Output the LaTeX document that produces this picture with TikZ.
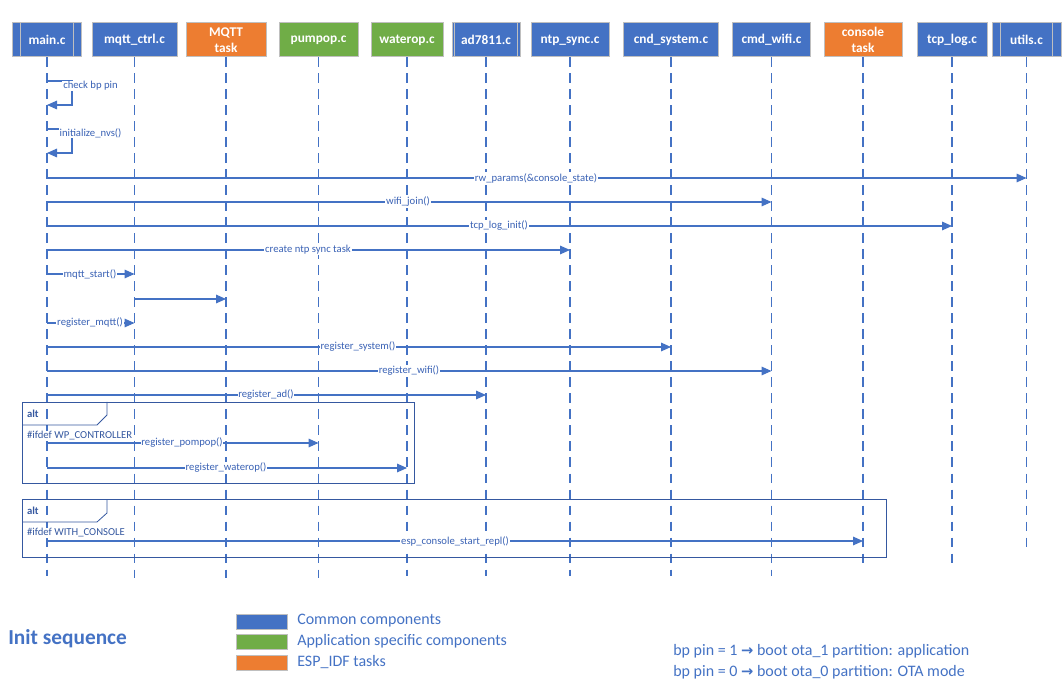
\documentclass[tikz,border=0pt]{standalone}
\usepackage{fontspec}
\setmainfont{Carlito}
\newfontfamily\arrowfont{DejaVu Sans}
\usetikzlibrary{arrows.meta}
\definecolor{cblue}{HTML}{4472C4}
\definecolor{cgreen}{HTML}{70AD47}
\definecolor{corange}{HTML}{ED7D31}
\definecolor{cgray}{HTML}{BFBFBF}
\definecolor{cframe}{HTML}{3558A0}
\definecolor{ctext}{HTML}{3A62B5}
\begin{document}
\begin{tikzpicture}[x=0.75pt,y=-0.75pt,
  hdr/.style={draw=cgray, line width=0.75pt, text=white,
    font=\fontsize{10}{12}\selectfont\bfseries, minimum height=25.5pt,
    inner sep=0pt, align=center},
  bar/.style={cgray, line width=0.75pt},
  life/.style={cblue, line width=0.9pt, dash pattern=on 7pt off 5pt},
  msg/.style={cblue, line width=0.8pt, -{Triangle[length=7.5pt,width=6.5pt]}},
  lbl/.style={fill=white, inner sep=0.6pt, text=ctext, font=\fontsize{8}{9.6}\selectfont},
  frm/.style={draw=cframe, line width=0.6pt},
  frmtxt/.style={anchor=west, inner sep=0.6pt, text=cframe, font=\fontsize{8}{9.6}\selectfont},
  swatch/.style={draw=cgray, line width=0.75pt, minimum width=38.25pt, minimum height=11.25pt, inner sep=0pt},
  legtxt/.style={anchor=west, inner sep=0pt, text=cblue, font=\fontsize{12}{14}\selectfont}
]
\useasboundingbox (0,0) rectangle (1063,680);

% header boxes
\node[hdr, fill=cblue,   minimum width=51.75pt] (main)    at (47,40)   {main.c};
\node[hdr, fill=cblue,   minimum width=63.75pt] (mqttc)   at (134.5,40) {mqtt\_ctrl.c};
\node[hdr, fill=corange, minimum width=60pt]    (mqttt)   at (226,40)  {MQTT\\task};
\node[hdr, fill=cgreen,  minimum width=59.25pt] (pump)    at (318.5,40) {pumpop.c};
\node[hdr, fill=cgreen,  minimum width=54pt]    (water)   at (407,40)  {waterop.c};
\node[hdr, fill=cblue,   minimum width=51pt]    (ad)      at (486,40)  {ad7811.c};
\node[hdr, fill=cblue,   minimum width=58.5pt]  (ntp)     at (570,40)  {ntp\_sync.c};
\node[hdr, fill=cblue,   minimum width=71.25pt] (cnd)     at (671,40)  {cnd\_system.c};
\node[hdr, fill=cblue,   minimum width=58.5pt]  (wifi)    at (771.5,40) {cmd\_wifi.c};
\node[hdr, fill=corange, minimum width=58.5pt]  (cons)    at (863,40)  {console\\task};
\node[hdr, fill=cblue,   minimum width=52.5pt]  (tcp)     at (952,40)  {tcp\_log.c};
\node[hdr, fill=cblue,   minimum width=51.75pt] (utils)   at (1026.5,40) {utils.c};

% inner bars
\draw[bar] ([xshift=6.4pt]main.north west) -- ([xshift=6.4pt]main.south west);
\draw[bar] ([xshift=-6.4pt]main.north east) -- ([xshift=-6.4pt]main.south east);
\draw[bar] ([xshift=2.4pt]ad.north west) -- ([xshift=2.4pt]ad.south west);
\draw[bar] ([xshift=-2.4pt]ad.north east) -- ([xshift=-2.4pt]ad.south east);
\draw[bar] ([xshift=6.4pt]utils.north west) -- ([xshift=6.4pt]utils.south west);
\draw[bar] ([xshift=-6.4pt]utils.north east) -- ([xshift=-6.4pt]utils.south east);

% lifelines
\foreach \n/\e in {main/576,mqttc/578,mqttt/578,pump/578,water/576,ad/576,ntp/576,cnd/576,wifi/576,cons/567,tcp/566,utils/550}{
  \draw[life] (\n.south) -- (\n.south |- 0,\e);
}

% self messages
\draw[msg] (main |- 0,81) -| (72,105) -- (main |- 0,105);
\node[lbl] (l1) at (90.5,86) {check bp pin};
\draw[msg] (main |- 0,129) -| (72,153) -- (main |- 0,153);
\node[lbl] (l2) at (90.5,133) {initialize\_nvs()};

% messages
\draw[msg] (main |- 0,178) -- (utils |- 0,178);
\node[lbl] (l3) at (536,178) {rw\_params(\&console\_state)};
\draw[msg] (main |- 0,202) -- (wifi |- 0,202);
\node[lbl] (l4) at (408,202) {wifi\_join()};
\draw[msg] (main |- 0,226) -- (tcp |- 0,226);
\node[lbl] (l5) at (499,226) {tcp\_log\_init()};
\draw[msg] (main |- 0,250) -- (ntp |- 0,250);
\node[lbl] (l6) at (308,250) {create ntp sync task};
\draw[msg] (main |- 0,274) -- (mqttc |- 0,274);
\node[lbl] (l7) at (90,274) {mqtt\_start()};
\draw[msg] (mqttc |- 0,299) -- (mqttt |- 0,299);
\draw[msg] (main |- 0,323) -- (mqttc |- 0,323);
\node[lbl] (l8) at (90,323) {register\_mqtt()};
\draw[msg] (main |- 0,347) -- (cnd |- 0,347);
\node[lbl] (l9) at (358,347) {register\_system()};
\draw[msg] (main |- 0,371) -- (wifi |- 0,371);
\node[lbl] (l10) at (409,371) {register\_wifi()};
\draw[msg] (main |- 0,395) -- (ad |- 0,395);
\node[lbl] (l11) at (266,395) {register\_ad()};

% alt frame 1
\draw[frm] (22,402) rectangle (414,483);
\draw[frm] (22,425) -- (97,425) -- (107,415) -- (107,402);
\node[frmtxt, font=\fontsize{8}{9.6}\selectfont\bfseries] (alt1) at (26,414) {alt};
\node[frmtxt, fill=white] (cond1) at (26,436) {\#ifdef WP\_CONTROLLER};
\draw[msg] (main |- 0,443) -- (pump |- 0,443);
\node[lbl] (l12) at (182,443) {register\_pompop()};
\draw[msg] (main |- 0,468) -- (water |- 0,468);
\node[lbl] (l13) at (226,468) {register\_waterop()};

% alt frame 2
\draw[frm] (22,499) rectangle (886,557);
\draw[frm] (22,522) -- (97,522) -- (107,513) -- (107,499);
\node[frmtxt, font=\fontsize{8}{9.6}\selectfont\bfseries] (alt2) at (26,511) {alt};
\node[frmtxt, fill=white] (cond2) at (26,533) {\#ifdef WITH\_CONSOLE};
\draw[msg] (main |- 0,541) -- (cons |- 0,541);
\node[lbl] (l14) at (455,541) {esp\_console\_start\_repl()};

% title
\node[anchor=west, inner sep=0pt, text=cblue, font=\fontsize{16}{19}\selectfont\bfseries] (title) at (8,639) {Init sequence};

% legend
\node[swatch, fill=cblue]   (sw1) at (261.5,621.5) {};
\node[swatch, fill=cgreen]  (sw2) at (261.5,642) {};
\node[swatch, fill=corange] (sw3) at (261.5,662.5) {};
\node[legtxt] (t1) at (297,621) {Common components};
\node[legtxt] (t2) at (297,641) {Application specific components};
\node[legtxt] (t3) at (297,662) {ESP\_IDF tasks};

% notes
\node[legtxt] (n1) at (673,651) {bp pin = 1 {\arrowfont\bfseries\fontsize{11}{13}\selectfont →} boot ota\_1 partition: application};
\node[legtxt] (n2) at (673,672) {bp pin = 0 {\arrowfont\bfseries\fontsize{11}{13}\selectfont →} boot ota\_0 partition: OTA mode};
\end{tikzpicture}
\end{document}
